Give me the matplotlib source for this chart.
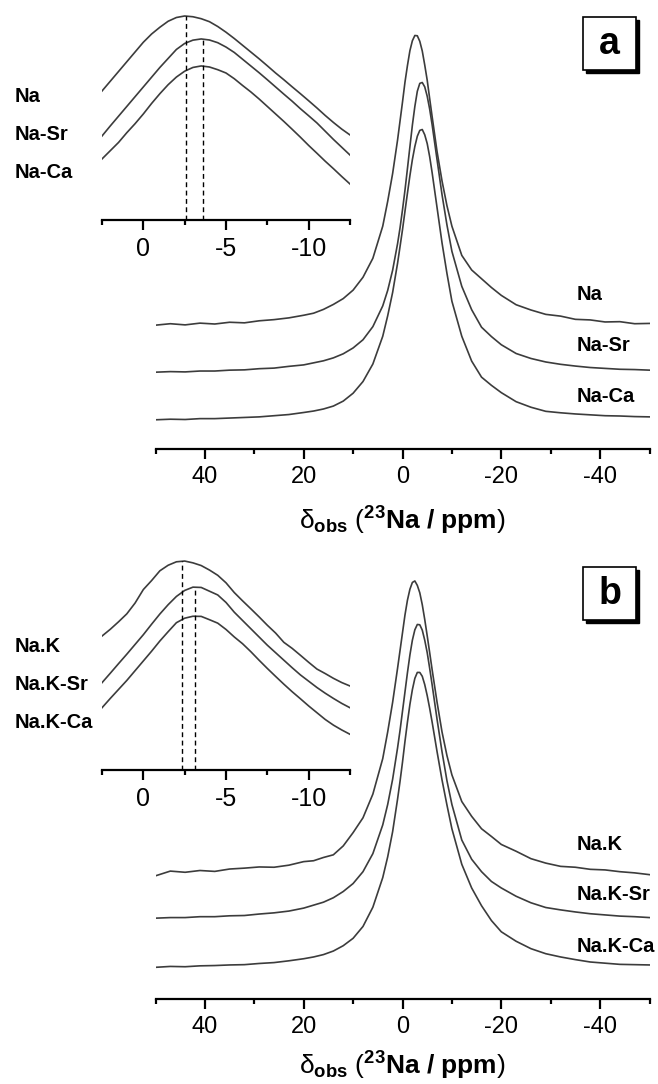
import numpy as np
import matplotlib
matplotlib.use("Agg")
import matplotlib.pyplot as plt
from matplotlib.patches import Rectangle

plt.rcParams['font.family'] = ['Liberation Sans', 'DejaVu Sans']
plt.rcParams['axes.unicode_minus'] = False
plt.rcParams['mathtext.fontset'] = 'custom'
plt.rcParams['mathtext.rm'] = 'Liberation Sans'
plt.rcParams['mathtext.bf'] = 'Liberation Sans:bold'
plt.rcParams['mathtext.it'] = 'Liberation Sans:italic'

# chemical shift grid (ppm) of the full spectra
ppm_main = [50, 47, 44, 41, 38, 35, 32, 29, 26, 23, 20, 18, 16, 14, 12, 10, 8, 6, 4, 3, 2, 1,
            0.5, 0, -0.5, -1, -1.5, -2, -2.5, -3, -3.5, -4, -4.5, -5, -5.5, -6, -7, -8, -9,
            -10, -12, -14, -16, -18, -20, -23, -26, -29, -32, -35, -38, -41, -44, -47, -50]

# normalised intensities, panel a
na = [0.006, 0.011, 0.007, 0.013, 0.010, 0.016, 0.014, 0.021, 0.025, 0.031, 0.040,
      0.047, 0.060, 0.077, 0.097, 0.126, 0.170, 0.235, 0.345, 0.430, 0.525, 0.640,
      0.705, 0.770, 0.838, 0.895, 0.946, 0.980, 0.998, 0.997, 0.978, 0.945, 0.897, 0.845,
      0.782, 0.720, 0.600, 0.500, 0.415, 0.345, 0.245, 0.195, 0.165, 0.135, 0.108,
      0.076, 0.058, 0.043, 0.037, 0.026, 0.024, 0.017, 0.018, 0.011, 0.012]
na_sr = [0.006, 0.008, 0.007, 0.010, 0.010, 0.013, 0.014, 0.018, 0.020, 0.026, 0.031,
         0.038, 0.045, 0.055, 0.069, 0.089, 0.117, 0.162, 0.233, 0.286, 0.355, 0.446,
         0.500, 0.562, 0.629, 0.703, 0.778, 0.852, 0.916, 0.968, 0.995, 0.998, 0.983, 0.951,
         0.907, 0.853, 0.733, 0.614, 0.510, 0.420, 0.300, 0.220, 0.160, 0.128, 0.100,
         0.070, 0.053, 0.041, 0.033, 0.027, 0.022, 0.019, 0.016, 0.015, 0.013]
na_ca = [0.004, 0.006, 0.005, 0.008, 0.008, 0.010, 0.012, 0.014, 0.018, 0.022, 0.029,
         0.034, 0.041, 0.051, 0.068, 0.095, 0.135, 0.195, 0.290, 0.360, 0.440, 0.540,
         0.597, 0.655, 0.718, 0.780, 0.840, 0.895, 0.940, 0.975, 0.995, 0.998, 0.980, 0.950,
         0.905, 0.850, 0.730, 0.610, 0.505, 0.410, 0.290, 0.205, 0.150, 0.122, 0.097,
         0.066, 0.047, 0.033, 0.028, 0.024, 0.021, 0.018, 0.017, 0.015, 0.014]

# normalised intensities, panel b
nak = [0.004, 0.020, 0.016, 0.022, 0.019, 0.027, 0.030, 0.034, 0.033, 0.040, 0.052,
       0.055, 0.066, 0.075, 0.105, 0.150, 0.200, 0.280, 0.400, 0.490, 0.590, 0.705,
       0.765, 0.825, 0.885, 0.935, 0.972, 0.995, 1.000, 0.985, 0.960, 0.920, 0.870, 0.815,
       0.758, 0.700, 0.590, 0.490, 0.410, 0.345, 0.255, 0.205, 0.163, 0.137, 0.110,
       0.087, 0.062, 0.047, 0.036, 0.033, 0.026, 0.024, 0.018, 0.014, 0.008]
nak_sr = [0.006, 0.008, 0.008, 0.011, 0.011, 0.014, 0.015, 0.020, 0.024, 0.030, 0.040,
          0.050, 0.060, 0.075, 0.096, 0.123, 0.163, 0.224, 0.321, 0.390, 0.475, 0.581,
          0.640, 0.705, 0.770, 0.835, 0.895, 0.945, 0.980, 0.998, 0.997, 0.979, 0.945, 0.903,
          0.850, 0.794, 0.677, 0.568, 0.470, 0.390, 0.270, 0.205, 0.163, 0.130, 0.108,
          0.080, 0.058, 0.042, 0.034, 0.027, 0.021, 0.017, 0.013, 0.011, 0.008]
nak_ca = [0.002, 0.005, 0.004, 0.007, 0.008, 0.010, 0.011, 0.015, 0.018, 0.024, 0.031,
          0.037, 0.045, 0.057, 0.075, 0.100, 0.140, 0.205, 0.305, 0.375, 0.460, 0.570,
          0.630, 0.695, 0.765, 0.830, 0.890, 0.940, 0.978, 0.998, 0.998, 0.985, 0.957, 0.920,
          0.877, 0.830, 0.730, 0.635, 0.550, 0.470, 0.350, 0.270, 0.210, 0.160, 0.122,
          0.090, 0.065, 0.048, 0.037, 0.028, 0.020, 0.016, 0.012, 0.011, 0.010]

# expanded region around the maximum (insets)
ppm_inset = [2.5, 2.0, 1.5, 1.0, 0.5, 0.0, -0.5, -1.0, -1.5, -2.0, -2.5, -3.0, -3.5, -4.0,
             -4.5, -5.0, -5.5, -6.0, -6.5, -7.0, -7.5, -8.0, -8.5, -9.0, -9.5, -10.0, -10.5,
             -11.0, -11.5, -12.0, -12.5]
na_zoom = [0.500, 0.565, 0.630, 0.695, 0.760, 0.825, 0.880, 0.925, 0.965, 0.990, 1.000, 0.995,
           0.982, 0.962, 0.930, 0.892, 0.850, 0.805, 0.760, 0.715, 0.668, 0.620, 0.575, 0.528,
           0.482, 0.435, 0.387, 0.337, 0.290, 0.246, 0.207]
na_sr_zoom = [0.353, 0.420, 0.485, 0.550, 0.615, 0.680, 0.745, 0.810, 0.870, 0.930, 0.970,
              0.992, 1.000, 0.993, 0.975, 0.946, 0.910, 0.865, 0.820, 0.775, 0.728, 0.680,
              0.632, 0.585, 0.535, 0.488, 0.440, 0.385, 0.330, 0.278, 0.226]
na_ca_zoom = [0.380, 0.435, 0.490, 0.555, 0.615, 0.680, 0.750, 0.815, 0.875, 0.926, 0.965,
              0.990, 1.000, 0.993, 0.975, 0.953, 0.915, 0.870, 0.827, 0.780, 0.730, 0.680,
              0.630, 0.578, 0.525, 0.470, 0.418, 0.365, 0.315, 0.263, 0.213]
nak_zoom = [0.500, 0.545, 0.595, 0.648, 0.720, 0.810, 0.870, 0.935, 0.972, 0.995, 1.000, 0.988,
            0.970, 0.940, 0.905, 0.855, 0.790, 0.735, 0.682, 0.628, 0.572, 0.520, 0.458,
            0.418, 0.372, 0.325, 0.280, 0.250, 0.218, 0.190, 0.167]
nak_sr_zoom = [0.360, 0.423, 0.487, 0.550, 0.615, 0.680, 0.750, 0.818, 0.880, 0.935, 0.975,
               0.997, 0.995, 0.970, 0.945, 0.895, 0.830, 0.775, 0.720, 0.665, 0.610, 0.560,
               0.510, 0.460, 0.412, 0.370, 0.328, 0.290, 0.255, 0.222, 0.193]
nak_ca_zoom = [0.388, 0.450, 0.510, 0.570, 0.635, 0.700, 0.765, 0.833, 0.895, 0.955, 0.985,
               0.998, 0.997, 0.975, 0.952, 0.910, 0.860, 0.815, 0.762, 0.705, 0.650, 0.597,
               0.545, 0.495, 0.448, 0.400, 0.355, 0.310, 0.272, 0.240, 0.211]

# peak maxima marked in the insets (ppm)
peaks_a = [-2.6, -3.6]
peaks_b = [-2.35, -3.1]

labels_a = ["Na", "Na-Sr", "Na-Ca"]
labels_b = ["Na.K", "Na.K-Sr", "Na.K-Ca"]

W, H = 658, 1084
LINE = '#3c3c3c'


def px_box(left, top, right, bottom):
    return [left / W, 1 - bottom / H, (right - left) / W, (bottom - top) / H]


def clean_axis(ax, lw=1.6):
    for s in ['left', 'right', 'top']:
        ax.spines[s].set_visible(False)
    ax.spines['bottom'].set_linewidth(lw)
    ax.set_yticks([])
    ax.patch.set_alpha(0)


fig = plt.figure(figsize=(W / 100, H / 100), dpi=100)

panels = [
    dict(letter='a', top=0, series=[na, na_sr, na_ca], zoom=[na_zoom, na_sr_zoom, na_ca_zoom],
         labels=labels_a, peaks=peaks_a, offs=[0.418, 0.257, 0.096], ytop=1.469,
         zoff=[0.36, 0.207, 0.027], xlab_y=521),
    dict(letter='b', top=550, series=[nak, nak_sr, nak_ca],
         zoom=[nak_zoom, nak_sr_zoom, nak_ca_zoom],
         labels=labels_b, peaks=peaks_b, offs=[0.412, 0.267, 0.105], ytop=1.449,
         zoff=[0.393, 0.222, 0.027], xlab_y=1066),
]

for p in panels:
    t = p['top']
    # main spectra
    ax = fig.add_axes(px_box(155.5, 20 + t, 649.5, 449 + t))
    for vals, off in zip(p['series'], p['offs']):
        ax.plot(ppm_main, np.array(vals) + off, color=LINE, lw=1.2)
    ax.set_xlim(50, -50)
    ax.set_ylim(0, p['ytop'])
    clean_axis(ax)
    ax.set_xticks([40, 20, 0, -20, -40])
    ax.set_xticks([50, 30, 10, -10, -30, -50], minor=True)
    ax.tick_params(axis='x', which='major', length=7, width=1.6, pad=5, labelsize=17)
    ax.tick_params(axis='x', which='minor', length=3.5, width=1.6)
    for lab, yy in zip(p['labels'], [295, 345, 397]):
        fig.text(577 / W, 1 - (yy + t) / H, lab, fontsize=14.5, fontweight='bold',
                 ha='left', va='center')
    fig.text(402 / W, 1 - p['xlab_y'] / H,
             r'$\mathrm{\delta}_{\mathbf{obs}}\ (^{\mathbf{23}}\mathbf{Na\ /\ ppm})$',
             fontsize=19, ha='center', va='center')

    # inset with the peak maxima
    ins = fig.add_axes(px_box(102, 10 + t, 350, 220 + t))
    for vals, off in zip(p['zoom'], p['zoff']):
        ins.plot(ppm_inset, np.array(vals) + off, color=LINE, lw=1.2)
    for pk, off in zip(p['peaks'], p['zoff'][:2]):
        ins.vlines(pk, 0, off + 1, color='black', lw=1.0, linestyles=(0, (3.5, 2.5)))
    ins.set_xlim(2.5, -12.5)
    ins.set_ylim(0, 1.4)
    clean_axis(ins)
    ins.set_xticks([0, -5, -10])
    ins.set_xticks([2.5, -2.5, -7.5, -12.5], minor=True)
    ins.tick_params(axis='x', which='major', length=7, width=1.6, pad=5, labelsize=18)
    ins.tick_params(axis='x', which='minor', length=3.5, width=1.6)
    for lab, yy in zip(p['labels'], [97, 135, 172]):
        fig.text(15 / W, 1 - (yy + t) / H, lab, fontsize=14.5, fontweight='bold',
                 ha='left', va='center')

    # panel letter in a shadowed box
    bx0, by0, bs = 583, 17 + t, 53
    fig.patches.append(Rectangle(((bx0 + 3) / W, 1 - (by0 + bs + 3) / H), bs / W, bs / H,
                                 transform=fig.transFigure, facecolor='black',
                                 edgecolor='black', lw=1))
    fig.patches.append(Rectangle((bx0 / W, 1 - (by0 + bs) / H), bs / W, bs / H,
                                 transform=fig.transFigure, facecolor='white',
                                 edgecolor='black', lw=1.2))
    fig.text((bx0 + bs / 2) / W, 1 - (by0 + bs / 2) / H, p['letter'], fontsize=27,
             fontweight='bold', ha='center', va='center')

fig.savefig('out.png', dpi=100)
